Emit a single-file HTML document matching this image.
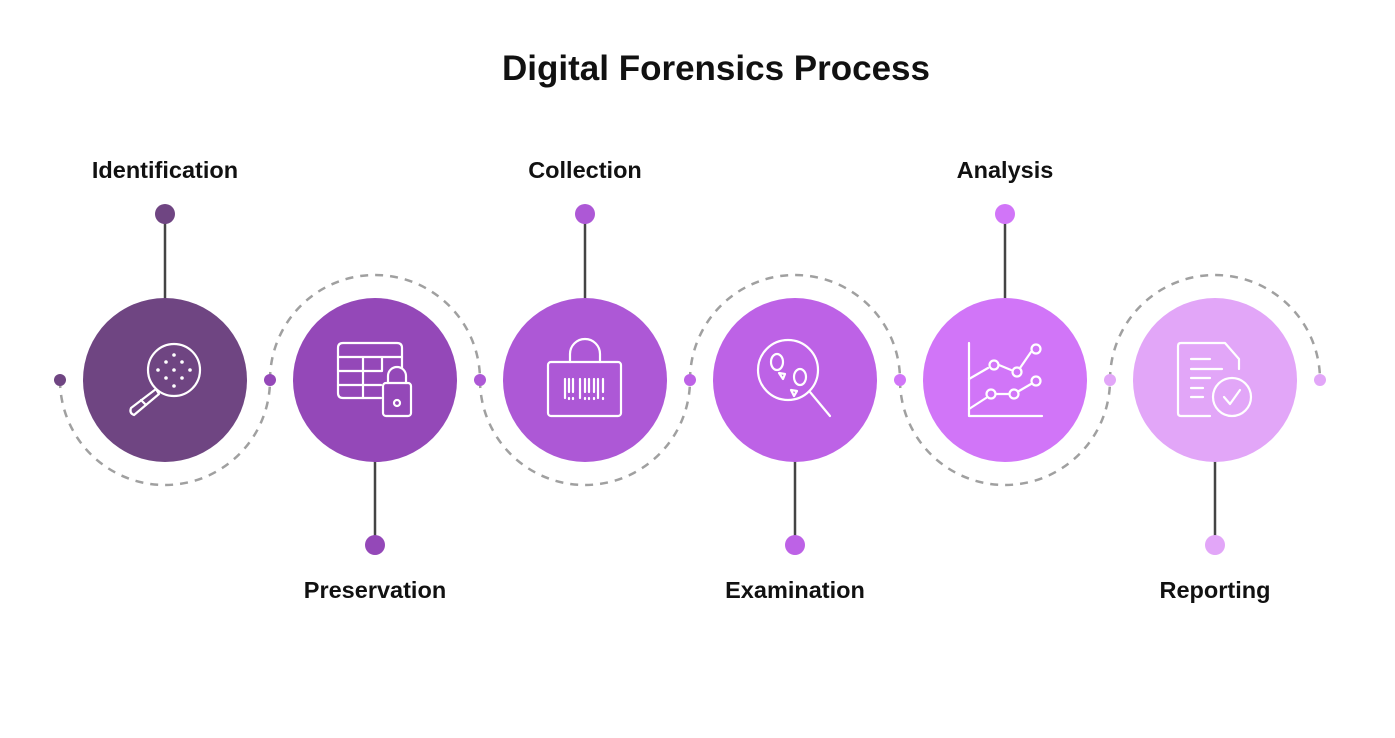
<!DOCTYPE html>
<html><head><meta charset="utf-8"><style>
html,body{margin:0;padding:0;background:#fff;}
svg{display:block;font-family:"Liberation Sans",Arial,sans-serif;}
</style></head><body>
<svg width="1395" height="738" viewBox="0 0 1395 738" xmlns="http://www.w3.org/2000/svg">
<text x="716" y="80" text-anchor="middle" font-size="35" font-weight="bold" fill="#111">Digital Forensics Process</text>
<g fill="none" stroke="#a0a0a0" stroke-width="2.5" stroke-dasharray="8 7">
<path d="M60 380 A105 105 0 0 0 270 380"/>
<path d="M270 380 A105 105 0 0 1 480 380"/>
<path d="M480 380 A105 105 0 0 0 690 380"/>
<path d="M690 380 A105 105 0 0 1 900 380"/>
<path d="M900 380 A105 105 0 0 0 1110 380"/>
<path d="M1110 380 A105 105 0 0 1 1320 380"/>
</g>
<g stroke="#444" stroke-width="2.5">
<line x1="165" y1="214" x2="165" y2="300"/>
<line x1="585" y1="214" x2="585" y2="300"/>
<line x1="1005" y1="214" x2="1005" y2="300"/>
<line x1="375" y1="460" x2="375" y2="545"/>
<line x1="795" y1="460" x2="795" y2="545"/>
<line x1="1215" y1="460" x2="1215" y2="545"/>
</g>
<circle cx="60" cy="380" r="6" fill="#6f4582"/>
<circle cx="270" cy="380" r="6" fill="#9448b8"/>
<circle cx="480" cy="380" r="6" fill="#ad58d6"/>
<circle cx="690" cy="380" r="6" fill="#bd62e6"/>
<circle cx="900" cy="380" r="6" fill="#d175f8"/>
<circle cx="1110" cy="380" r="6" fill="#e2a6f8"/>
<circle cx="1320" cy="380" r="6" fill="#e2a6f8"/>
<circle cx="165" cy="214" r="10" fill="#6f4582"/>
<circle cx="585" cy="214" r="10" fill="#ad58d6"/>
<circle cx="1005" cy="214" r="10" fill="#d175f8"/>
<circle cx="375" cy="545" r="10" fill="#9448b8"/>
<circle cx="795" cy="545" r="10" fill="#bd62e6"/>
<circle cx="1215" cy="545" r="10" fill="#e2a6f8"/>
<circle cx="165" cy="380" r="82" fill="#6f4582"/>
<circle cx="375" cy="380" r="82" fill="#9448b8"/>
<circle cx="585" cy="380" r="82" fill="#ad58d6"/>
<circle cx="795" cy="380" r="82" fill="#bd62e6"/>
<circle cx="1005" cy="380" r="82" fill="#d175f8"/>
<circle cx="1215" cy="380" r="82" fill="#e2a6f8"/>
<g font-size="23.5" font-weight="bold" fill="#111" text-anchor="middle">
<text x="165" y="178">Identification</text>
<text x="585" y="178">Collection</text>
<text x="1005" y="178">Analysis</text>
<text x="375" y="598">Preservation</text>
<text x="795" y="598">Examination</text>
<text x="1215" y="598">Reporting</text>
</g>
<g fill="#fff">
<circle cx="174" cy="355" r="1.8"/>
<circle cx="166" cy="362" r="1.8"/>
<circle cx="182" cy="362" r="1.8"/>
<circle cx="158" cy="370" r="1.8"/>
<circle cx="174" cy="370" r="1.8"/>
<circle cx="190" cy="370" r="1.8"/>
<circle cx="166" cy="378" r="1.8"/>
<circle cx="182" cy="378" r="1.8"/>
<circle cx="174" cy="386" r="1.8"/>
</g>
<g fill="none" stroke="#fff" stroke-width="2.2" stroke-linecap="round" stroke-linejoin="round">
<!-- icon1 -->
<circle cx="174" cy="370" r="26"/>
<path d="M156 389 L131 408 Q129 413 134 415 L159 394 Z"/>
<line x1="141" y1="400" x2="146" y2="405"/>
<!-- icon2 -->
<path d="M381 398 H343 Q338 398 338 393 V348 Q338 343 343 343 H397 Q402 343 402 348 V368"/>
<path d="M338 357 H402 M338 371 H381 M338 385 H381 M363 357 V398 M382 357 V371"/>
<rect x="383" y="383" width="28" height="33" rx="3"/>
<path d="M388 383 V376 A9 9 0 0 1 406 376 V383"/>
<circle cx="397" cy="403" r="3"/>
<!-- icon3 -->
<rect x="548" y="362" width="73" height="54" rx="3"/>
<path d="M570 362 V354 A15 15 0 0 1 600 354 V362"/>
<path d="M565 379 V398 M569 379 V392 M573 379 V392 M580 379 V398 M585 379 V392 M589 379 V392 M594 379 V392 M598 379 V398 M603 379 V392 M569 398 V399 M573 398 V399 M585 398 V399 M589 398 V399 M594 398 V399 M603 398 V399"/>
<!-- icon4 -->
<circle cx="788" cy="370" r="30"/>
<line x1="810" y1="392" x2="830" y2="416"/>
<ellipse cx="777" cy="362" rx="6" ry="8"/>
<ellipse cx="800" cy="377" rx="6" ry="8"/>
<path d="M779 373 L785 374 L783 379 Z"/>
<path d="M791 390 L797 391 L794 396 Z"/>
<!-- icon5 -->
<path d="M969 343 V416 H1042"/>
<path d="M969 379 L988 368 M999 365 L1011 370 M1020 368 L1031 352 M969 409 L986 398 M996 394 L1009 394 M1019 391 L1031 384"/>
<circle cx="994" cy="365" r="4.5"/>
<circle cx="1017" cy="372" r="4.5"/>
<circle cx="1036" cy="349" r="4.5"/>
<circle cx="991" cy="394" r="4.5"/>
<circle cx="1014" cy="394" r="4.5"/>
<circle cx="1036" cy="381" r="4.5"/>
<!-- icon6 -->
<path d="M1210 416 H1181 Q1178 416 1178 413 V346 Q1178 343 1181 343 H1225 L1239 359 V369"/>
<path d="M1191 359 H1210 M1191 369 H1222 M1191 378 H1210 M1191 388 H1203 M1191 397 H1203"/>
<circle cx="1232" cy="397" r="19"/>
<path d="M1224 397 L1230 404 L1240 390"/>
</g>
</svg>
</body></html>
